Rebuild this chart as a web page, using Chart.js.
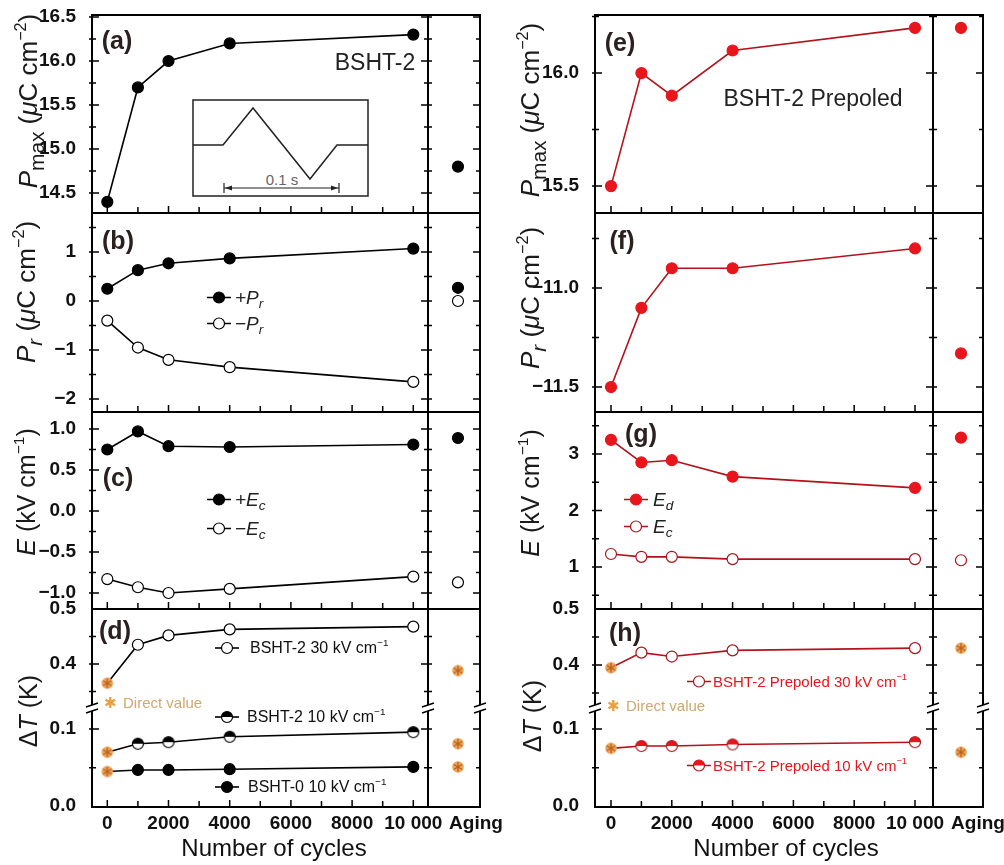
<!DOCTYPE html>
<html>
<head>
<meta charset="utf-8">
<title>BSHT cycling</title>
<script src="https://cdn.jsdelivr.net/npm/chart.js@4.4.1/dist/chart.umd.min.js"></script>
<style>
  body { margin: 0; width: 1004px; height: 865px; position: relative; overflow: hidden; background: #fff;
         font-family: "Liberation Sans", Arial, sans-serif; color: #222; }
  canvas { position: absolute; }
  .t { position: absolute; white-space: nowrap; line-height: 1; }
  .rot { transform: translate(-50%, -50%) rotate(-90deg); font-size: 25px; color: #1a1a1a; }
  .tag { transform: translate(-50%, -50%); font-weight: bold; font-size: 25px; color: #2b2020; }
  .leg { transform: translate(0, -50%); display: flex; align-items: center; }
  sub { font-size: 0.72em; vertical-align: -0.35em; line-height: 0; }
  sup { font-size: 0.62em; vertical-align: 0.7em; line-height: 0; }
  .rot sub { font-size: 0.8em; }
</style>
</head>
<body>
<svg style="position:absolute;left:192px;top:99px" width="177" height="98">
  <rect x="1" y="1" width="175" height="96" fill="none" stroke="#222" stroke-width="1.5"/>
  <polyline points="1,46 31,46 61,9 118,80 145,46 176,46" fill="none" stroke="#222" stroke-width="1.5"/>
  <line x1="32" y1="89" x2="147" y2="89" stroke="#222" stroke-width="1.2"/>
  <line x1="32" y1="84" x2="32" y2="94" stroke="#222" stroke-width="1.2"/>
  <line x1="147" y1="84" x2="147" y2="94" stroke="#222" stroke-width="1.2"/>
  <path d="M33 89 L40 86.5 L40 91.5 Z M146 89 L139 86.5 L139 91.5 Z" fill="#222"/>
  <text x="90" y="86" font-size="15" fill="#666" text-anchor="middle" font-family="Liberation Sans">0.1 s</text>
</svg>
<script>
// Cycle axis
const cycles = [0, 1000, 2000, 4000, 10000];
const cycleTicks = [0, 1000, 2000, 3000, 4000, 5000, 6000, 7000, 8000, 9000, 10000];
const cycleTickLabels = ['0', '', '2000', '', '4000', '', '6000', '', '8000', '', '10 000'];
const agingLabel = 'Aging';

// (a) BSHT-2 Pmax
const pmax = [14.4, 15.7, 16.0, 16.2, 16.3];
const pmaxAged = 14.8;
const pmaxTicks = [14.5, 15.0, 15.5, 16.0, 16.5];

// (b) BSHT-2 +Pr / -Pr
const prPlus = [0.25, 0.63, 0.77, 0.87, 1.07];
const prMinus = [-0.4, -0.95, -1.2, -1.35, -1.65];
const prPlusAged = 0.27;
const prMinusAged = 0.0;
const prTicks = [-2, -1, 0, 1];

// (c) BSHT-2 +Ec / -Ec
const ecPlus = [0.75, 0.97, 0.79, 0.78, 0.81];
const ecMinus = [-0.83, -0.93, -1.0, -0.95, -0.80];
const ecPlusAged = 0.89;
const ecMinusAged = -0.87;
const ecTicks = [-1.0, -0.5, 0.0, 0.5, 1.0];

// (d) dT
const dt2at30 = [0.365, 0.435, 0.452, 0.463, 0.468];
const dt2at10 = [0.070, 0.081, 0.083, 0.090, 0.096];
const dt0at10 = [0.045, 0.047, 0.047, 0.048, 0.051];
const dt2at30Aged = 0.388;
const dt2at10Aged = 0.081;
const dt0at10Aged = 0.051;
const dtTicksHigh = [0.4, 0.5];
const dtTicksLow = [0.0, 0.1];

// (e) prepoled Pmax
const pmaxPre = [15.5, 16.0, 15.9, 16.1, 16.2];
const pmaxPreAged = 16.2;
const pmaxPreTicks = [15.5, 16.0];

// (f) prepoled Pr
const prPre = [-11.5, -11.1, -10.9, -10.9, -10.8];
const prPreAged = -11.33;
const prPreTicks = [-11.5, -11.0];

// (g) prepoled Ed / Ec
const edPre = [3.25, 2.85, 2.89, 2.6, 2.4];
const ecPre = [1.23, 1.18, 1.18, 1.14, 1.14];
const edPreAged = 3.29;
const ecPreAged = 1.12;
const ePreTicks = [1, 2, 3];

// (h) prepoled dT
const dtPre30 = [0.395, 0.422, 0.415, 0.426, 0.43];
const dtPre10 = [0.075, 0.078, 0.078, 0.080, 0.083];
const dtPre30Aged = 0.43;
const dtPre10Aged = 0.07;

// Layout of the two columns
const columns = [
    { left: 0, width: 502, areaLeft: 92, areaRight: 480, xMin: -500, xMax: 12180, sep: 10490,
      agingAt: 11460, agingLabelAt: 12050, line: '#000', fill: '#000', open: '#000' },
    { left: 500, width: 504, areaLeft: 595, areaRight: 983, xMin: -526, xMax: 12237, sep: 10592,
      agingAt: 11513, agingLabelAt: 12072, line: '#b3121a', fill: '#e8161c', open: '#a8141a' }
];

const f1 = v => v.toFixed(1).replace('-', '\u2212');
const f0 = v => String(v).replace('-', '\u2212');

// Marker images
function markerCanvas(draw) {
    const c = document.createElement('canvas');
    c.width = 14; c.height = 14;
    draw(c.getContext('2d'));
    return c;
}
function halfMarker(color, edge) {
    return markerCanvas(ctx => {
        ctx.lineWidth = 1.2;
        ctx.beginPath(); ctx.arc(7, 7, 5.5, 0, Math.PI * 2); ctx.fillStyle = '#fff'; ctx.fill();
        ctx.beginPath(); ctx.arc(7, 7, 5.5, Math.PI, 0); ctx.closePath(); ctx.fillStyle = color; ctx.fill();
        ctx.beginPath(); ctx.arc(7, 7, 5.5, 0, Math.PI * 2); ctx.strokeStyle = edge; ctx.stroke();
    });
}
function directMarker(star) {
    return markerCanvas(ctx => {
        ctx.beginPath(); ctx.arc(7, 7, 5.8, 0, Math.PI * 2); ctx.fillStyle = '#f0a458'; ctx.fill();
        ctx.strokeStyle = star; ctx.lineWidth = 1.3;
        ctx.beginPath();
        for (let k = 0; k < 3; k++) {
            const a = k * Math.PI / 3 + Math.PI / 2;
            ctx.moveTo(7 + 5 * Math.cos(a), 7 + 5 * Math.sin(a));
            ctx.lineTo(7 - 5 * Math.cos(a), 7 - 5 * Math.sin(a));
        }
        ctx.stroke();
    });
}
const directImg = directMarker('#b5641e');

function line(values, col, kind, firstDirect) {
    const half = kind === 'half' ? halfMarker(col.fill, col.open) : null;
    return {
        data: cycles.map((c, i) => ({ x: c, y: values[i] })),
        showLine: true,
        borderColor: col.line,
        borderWidth: 1.6,
        pointRadius: 5.5,
        pointBorderWidth: 1.2,
        pointStyle: values.map((v, i) => (firstDirect && i === 0) ? directImg : (half || 'circle')),
        pointBackgroundColor: kind === 'open' ? '#fff' : col.fill,
        pointBorderColor: kind === 'open' ? col.open : col.fill
    };
}
function aged(value, col, kind) {
    return {
        data: [{ x: col.agingAt, y: value }],
        showLine: false,
        pointRadius: 5.5,
        pointBorderWidth: 1.2,
        pointStyle: kind === 'direct' ? directImg : 'circle',
        pointBackgroundColor: kind === 'open' ? '#fff' : col.fill,
        pointBorderColor: kind === 'open' ? col.open : col.fill
    };
}

// Frame, tick marks and axis breaks
const framePlugin = {
    id: 'frame',
    afterDraw(chart, args, o) {
        const { ctx, chartArea: a } = chart;
        const x = chart.scales.x, y = chart.scales.y;
        const sx = Math.round(x.getPixelForValue(o.sep));
        const edges = [a.left, sx, a.right];
        ctx.save();
        ctx.strokeStyle = '#000';
        ctx.lineWidth = 2;
        ctx.beginPath();
        edges.forEach(px => { ctx.moveTo(px, a.top); ctx.lineTo(px, a.bottom); });
        if (o.top) { ctx.moveTo(a.left - 1, a.top); ctx.lineTo(a.right + 1, a.top); }
        if (o.bottom) { ctx.moveTo(a.left - 1, a.bottom); ctx.lineTo(a.right + 1, a.bottom); }
        ctx.stroke();

        ctx.lineWidth = 1.5;
        ctx.beginPath();
        const majors = y.ticks.map(t => t.value);
        const k0 = Math.ceil(y.min / o.minor - 1e-6), k1 = Math.floor(y.max / o.minor + 1e-6);
        for (let k = k0; k <= k1; k++) {
            const v = k * o.minor;
            const py = y.getPixelForValue(v);
            if (py < a.top + 1 || py > a.bottom - 1) continue;
            const len = majors.some(m => Math.abs(m - v) < 1e-6) ? 7 : 4;
            ctx.moveTo(a.left - 3, py); ctx.lineTo(a.left + len, py);
            ctx.moveTo(sx - len, py); ctx.lineTo(sx + 4, py);
            ctx.moveTo(a.right - len, py); ctx.lineTo(a.right, py);
        }
        if (o.bottom) {
            cycleTicks.forEach((v, i) => {
                const px = x.getPixelForValue(v);
                ctx.moveTo(px, a.bottom); ctx.lineTo(px, a.bottom - (cycleTickLabels[i] ? 7 : 6));
            });
        }
        ctx.stroke();

        if (o.breakTop) {
            edges.forEach(px => {
                ctx.fillStyle = '#fff';
                ctx.beginPath();
                ctx.moveTo(px - 6, a.top - 1); ctx.lineTo(px + 6, a.top - 5);
                ctx.lineTo(px + 6, a.top + 1); ctx.lineTo(px - 6, a.top + 5);
                ctx.closePath();
                ctx.fill();
                ctx.beginPath();
                ctx.moveTo(px - 6, a.top - 1); ctx.lineTo(px + 6, a.top - 5);
                ctx.moveTo(px - 6, a.top + 5); ctx.lineTo(px + 6, a.top + 1);
                ctx.lineWidth = 1.5;
                ctx.stroke();
            });
        }
        ctx.restore();
    }
};

function panel(col, top, bottom, cfg) {
    const pad = 14;
    const cTop = top - pad;
    const xh = cfg.showX ? 865 - bottom : pad;
    const canvas = document.createElement('canvas');
    canvas.width = col.width;
    canvas.height = bottom - cTop + xh;
    canvas.style.left = col.left + 'px';
    canvas.style.top = cTop + 'px';
    document.body.appendChild(canvas);
    return new Chart(canvas, {
        type: 'scatter',
        data: { datasets: cfg.datasets },
        options: {
            responsive: false,
            animation: false,
            events: [],
            layout: { padding: { top: pad, right: col.left + col.width - col.areaRight, left: 0, bottom: 0 } },
            plugins: {
                legend: { display: false },
                tooltip: { enabled: false },
                frame: { sep: col.sep, minor: cfg.minor, top: cfg.top !== false, bottom: cfg.bottom !== false, breakTop: !!cfg.breakTop }
            },
            scales: {
                x: {
                    type: 'linear', min: col.xMin, max: col.xMax,
                    afterBuildTicks: s => { s.ticks = cycleTicks.concat([col.agingLabelAt]).map(v => ({ value: v })); },
                    afterFit: s => { s.height = xh; s.paddingLeft = 0; s.paddingRight = 0; },
                    ticks: {
                        display: !!cfg.showX, autoSkip: false, maxRotation: 0, padding: -3, color: '#111',
                        font: { family: 'Liberation Sans', weight: 'bold', size: 19 },
                        callback: (v, i) => i < cycleTickLabels.length ? cycleTickLabels[i] : agingLabel
                    },
                    grid: { display: false },
                    border: { display: false }
                },
                y: {
                    type: 'linear', min: cfg.min, max: cfg.max,
                    afterBuildTicks: s => { s.ticks = cfg.ticks.map(v => ({ value: v })); },
                    afterFit: s => { s.width = col.areaLeft - col.left; s.paddingTop = 0; s.paddingBottom = 0; },
                    ticks: {
                        padding: 8, color: '#111',
                        font: { family: 'Liberation Sans', weight: 'bold', size: 19 },
                        callback: cfg.fmt
                    },
                    grid: { display: false },
                    border: { display: false }
                }
            }
        },
        plugins: [framePlugin]
    });
}

// Text overlays
function put(html, x, y, cls, style) {
    const d = document.createElement('div');
    d.className = 't ' + cls;
    d.innerHTML = html;
    d.style.left = x + 'px';
    d.style.top = y + 'px';
    if (style) d.style.cssText += style;
    document.body.appendChild(d);
}
function sampleSvg(kind, col) {
    let m;
    if (kind === 'filled') m = `<circle cx="12" cy="7" r="5.5" fill="${col.fill}" stroke="${col.fill}" stroke-width="1.2"/>`;
    else if (kind === 'open') m = `<circle cx="12" cy="7" r="5.5" fill="#fff" stroke="${col.open}" stroke-width="1.2"/>`;
    else m = `<circle cx="12" cy="7" r="5.5" fill="#fff" stroke="${col.open}" stroke-width="1.2"/><path d="M6.5 7 A5.5 5.5 0 0 1 17.5 7 Z" fill="${col.fill}"/>`;
    return `<svg width="24" height="14" style="display:block"><line x1="0" y1="7" x2="24" y2="7" stroke="${col.line}" stroke-width="1.6"/>${m}</svg>`;
}
function legendRow(x, y, kind, col, html, gap, style) {
    put(sampleSvg(kind, col) + `<span style="margin-left:${gap}px">${html}</span>`, x, y, 'leg', style);
}

document.addEventListener('DOMContentLoaded', () => {
    const L = columns[0], R = columns[1];

    // Left column: BSHT-2
    panel(L, 15, 213, { min: 14.273, max: 16.523, ticks: pmaxTicks, fmt: f1, minor: 0.25,
        datasets: [line(pmax, L, 'filled'), aged(pmaxAged, L, 'filled')] });
    panel(L, 213, 412, { min: -2.265, max: 1.796, ticks: prTicks, fmt: f0, minor: 0.5,
        datasets: [line(prPlus, L, 'filled'), line(prMinus, L, 'open'), aged(prPlusAged, L, 'filled'), aged(prMinusAged, L, 'open')] });
    panel(L, 412, 609, { min: -1.195, max: 1.207, ticks: ecTicks, fmt: f1, minor: 0.25,
        datasets: [line(ecPlus, L, 'filled'), line(ecMinus, L, 'open'), aged(ecPlusAged, L, 'filled'), aged(ecMinusAged, L, 'open')] });
    panel(L, 609, 708, { min: 0.32, max: 0.5, ticks: dtTicksHigh, fmt: f1, minor: 0.05, bottom: false,
        datasets: [line(dt2at30, L, 'open', true), aged(dt2at30Aged, L, 'direct')] });
    panel(L, 708, 807, { min: -0.001, max: 0.1273, ticks: dtTicksLow, fmt: f1, minor: 0.05, top: false, breakTop: true, showX: true,
        datasets: [line(dt2at10, L, 'half', true), line(dt0at10, L, 'filled', true), aged(dt2at10Aged, L, 'direct'), aged(dt0at10Aged, L, 'direct')] });

    // Right column: BSHT-2 prepoled
    panel(R, 15, 213, { min: 15.381, max: 16.257, ticks: pmaxPreTicks, fmt: f1, minor: 0.25,
        datasets: [line(pmaxPre, R, 'filled'), aged(pmaxPreAged, R, 'filled')] });
    panel(R, 213, 412, { min: -11.626, max: -10.621, ticks: prPreTicks, fmt: f1, minor: 0.25,
        datasets: [line(prPre, R, 'filled'), aged(prPreAged, R, 'filled')] });
    panel(R, 412, 609, { min: 0.257, max: 3.743, ticks: ePreTicks, fmt: f0, minor: 0.5,
        datasets: [line(edPre, R, 'filled'), line(ecPre, R, 'open'), aged(edPreAged, R, 'filled'), aged(ecPreAged, R, 'open')] });
    panel(R, 609, 708, { min: 0.323, max: 0.5, ticks: dtTicksHigh, fmt: f1, minor: 0.05, bottom: false,
        datasets: [line(dtPre30, R, 'open', true), aged(dtPre30Aged, R, 'direct')] });
    panel(R, 708, 807, { min: -0.001, max: 0.1273, ticks: dtTicksLow, fmt: f1, minor: 0.05, top: false, breakTop: true, showX: true,
        datasets: [line(dtPre10, R, 'half', true), aged(dtPre10Aged, R, 'direct')] });

    // Axis titles
    const muC = '(<i>\u03bc</i>C cm<sup>\u22122</sup>)';
    put(`<i>P</i><sub>max</sub> ${muC}`, 28, 101, 'rot', 'font-size:26px');
    put(`<i>P<sub>r</sub></i> ${muC}`, 26, 292, 'rot', 'font-size:26px');
    put('<i>E</i> (kV cm<sup>\u22121</sup>)', 26, 492, 'rot');
    put('\u0394<i>T</i> (K)', 28, 711, 'rot');
    put(`<i>P</i><sub>max</sub> ${muC}`, 530, 110, 'rot', 'font-size:26px');
    put(`<i>P<sub>r</sub></i> ${muC}`, 530, 298, 'rot', 'font-size:26px');
    put('<i>E</i> (kV cm<sup>\u22121</sup>)', 530, 493, 'rot');
    put('\u0394<i>T</i> (K)', 532, 716, 'rot');
    put('Number of cycles', 274, 848, 'tag', 'font-weight:normal;font-size:24px;color:#111');
    put('Number of cycles', 786, 848, 'tag', 'font-weight:normal;font-size:24px;color:#111');

    // Panel tags
    [['(a)', 117, 40], ['(b)', 118, 240], ['(c)', 118, 477], ['(d)', 115, 630],
     ['(e)', 620, 42], ['(f)', 622, 240], ['(g)', 641, 433], ['(h)', 625, 632]]
        .forEach(([s, x, y]) => put(s, x, y, 'tag'));

    put('BSHT-2', 375, 62, 'tag', 'font-weight:normal;font-size:23px;color:#222');
    put('BSHT-2 Prepoled', 813, 98, 'tag', 'font-weight:normal;font-size:23px;color:#222');

    // Legends
    const it = 'font-size:19px;font-style:italic;color:#222';
    legendRow(207, 297, 'filled', L, '+<i>P<sub>r</sub></i>', 4, it);
    legendRow(207, 323, 'open', L, '\u2212<i>P<sub>r</sub></i>', 4, it);
    legendRow(207, 499, 'filled', L, '+<i>E<sub>c</sub></i>', 4, it);
    legendRow(207, 528, 'open', L, '\u2212<i>E<sub>c</sub></i>', 4, it);
    const lg = 'font-size:16px;color:#111';
    legendRow(215, 648, 'open', L, 'BSHT-2 30 kV cm<sup>\u22121</sup>', 11, lg);
    legendRow(215, 717, 'half', L, 'BSHT-2 10 kV cm<sup>\u22121</sup>', 8, lg);
    legendRow(215, 787, 'filled', L, 'BSHT-0 10 kV cm<sup>\u22121</sup>', 9, lg);
    legendRow(624, 499, 'filled', R, '<i>E<sub>d</sub></i>', 5, it);
    legendRow(624, 526, 'open', R, '<i>E<sub>c</sub></i>', 5, it);
    const lr = 'font-size:15px;color:#e8141c';
    legendRow(687, 681, 'open', R, 'BSHT-2 Prepoled 30 kV cm<sup>\u22121</sup>', 2, lr);
    legendRow(687, 765, 'half', R, 'BSHT-2 Prepoled 10 kV cm<sup>\u22121</sup>', 2, lr);

    const star = '<span style="color:#e8a040;font-size:15px">\u2731</span><span style="margin-left:6px">Direct value</span>';
    put(star, 104, 702, 'leg', 'color:#d0a870;font-size:15px');
    put(star, 607, 705, 'leg', 'color:#d0a870;font-size:15px');
});
</script>
</body>
</html>
